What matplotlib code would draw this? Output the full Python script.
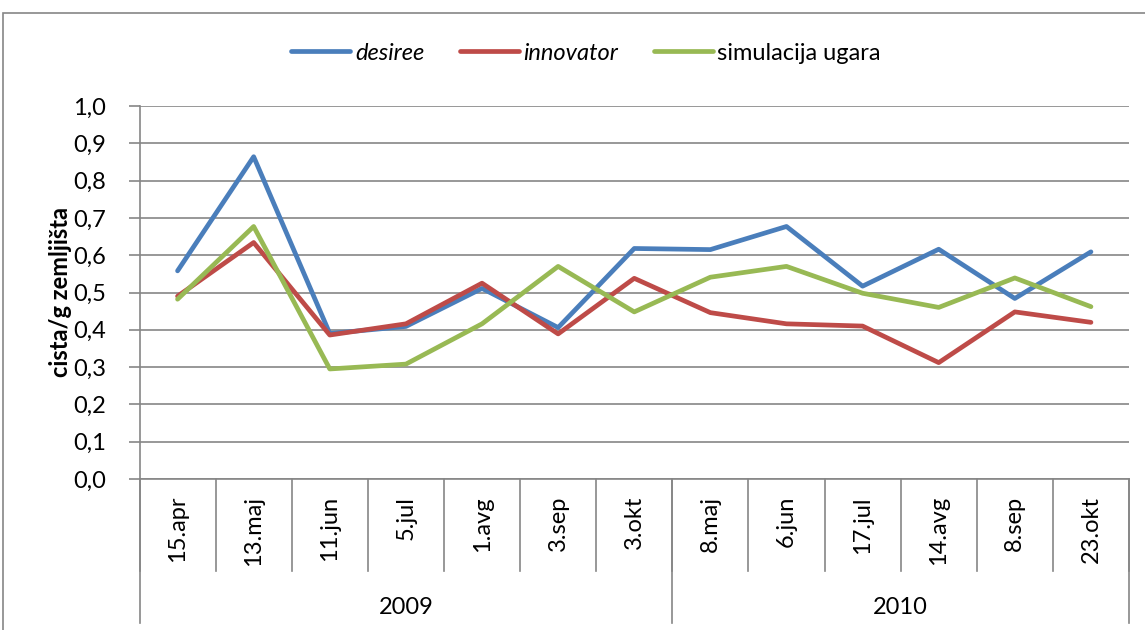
import matplotlib.pyplot as plt
from matplotlib.patches import Rectangle

# ============================================
# DATA
# ============================================
dates = ['15.apr', '13.maj', '11.jun', '5.jul', '1.avg', '3.sep', '3.okt',
         '8.maj', '6.jun', '17.jul', '14.avg', '8.sep', '23.okt']
years = ['2009', '2010']
year_counts = [7, 6]

desiree = [0.558, 0.864, 0.390, 0.409, 0.511, 0.406, 0.618,
           0.615, 0.677, 0.517, 0.616, 0.484, 0.609]
innovator = [0.490, 0.634, 0.386, 0.416, 0.525, 0.389, 0.538,
             0.446, 0.416, 0.410, 0.312, 0.448, 0.420]
simulacija = [0.482, 0.677, 0.295, 0.308, 0.416, 0.570, 0.448,
              0.541, 0.570, 0.498, 0.460, 0.539, 0.462]

yticks = [0.0, 0.1, 0.2, 0.3, 0.4, 0.5, 0.6, 0.7, 0.8, 0.9, 1.0]

# ============================================
# STYLE
# ============================================
plt.rcParams['font.family'] = ['Lato', 'DejaVu Sans']
FS = 17
GRID = '#868686'
W, H = 1145, 630

fig = plt.figure(figsize=(W / 100, H / 100), dpi=100)
left, right, top, bottom = 139.5, 1129, 106, 479
ax = fig.add_axes([left / W, 1 - bottom / H, (right - left) / W, (bottom - top) / H])

# outer chart border
fig.patches.append(Rectangle((3 / W, -0.1), 1.2, 1 - 13 / H + 0.1, transform=fig.transFigure,
                             fill=False, edgecolor='#868686', lw=1.2))

x = list(range(len(dates)))
ax.plot(x, desiree, color='#4A7EBB', lw=3.4, label='desiree', solid_capstyle='round')
ax.plot(x, innovator, color='#BE4B48', lw=3.4, label='innovator', solid_capstyle='round')
ax.plot(x, simulacija, color='#98B954', lw=3.4, label='simulacija ugara', solid_capstyle='round')

ax.set_xlim(-0.5, len(dates) - 0.5)
ax.set_ylim(0, 1.0)
ax.set_yticks(yticks)
ax.set_yticklabels([f'{v:.1f}'.replace('.', ',') for v in yticks], fontsize=FS)
ax.yaxis.grid(True, color=GRID, lw=1.2)
ax.set_axisbelow(True)
ax.tick_params(axis='y', length=8, color=GRID, width=1.2, pad=16)
ax.set_xticks([])
for s in ['top', 'right']:
    ax.spines[s].set_visible(False)
for s in ['left', 'bottom']:
    ax.spines[s].set_color(GRID)
    ax.spines[s].set_linewidth(1.2)

# y-axis title
fig.text(60 / W, 1 - 292 / H, 'cista/g zemljišta', rotation=90, ha='center', va='center',
         fontsize=FS, fontweight='bold')

# two-level category axis
ph = bottom - top
tr = ax.get_xaxis_transform()
sep_low = -(571 - bottom) / ph
year_low = -(623 - bottom) / ph
for i in range(len(dates) + 1):
    ax.plot([i - 0.5, i - 0.5], [0, sep_low], transform=tr, color=GRID, lw=1.2, clip_on=False)
for i, d in enumerate(dates):
    ax.text(i, -(496 - bottom) / ph, d, transform=tr, rotation=90, ha='center', va='top', fontsize=FS)

start = 0
bounds = [0]
for y, n in zip(years, year_counts):
    ax.text(start + n / 2 - 0.5, -(607 - bottom) / ph, y, transform=tr, ha='center', va='center', fontsize=FS)
    start += n
    bounds.append(start)
for b in bounds:
    ax.plot([b - 0.5, b - 0.5], [0, year_low], transform=tr, color=GRID, lw=1.2, clip_on=False)

leg = fig.legend(loc='center', bbox_to_anchor=(586 / W, 1 - 53 / H), ncol=3, frameon=False,
                 fontsize=FS, handlelength=2.5, handletextpad=0.2, columnspacing=1.5)
for t in leg.get_texts()[:2]:
    t.set_fontstyle('italic')

fig.savefig('out.png', dpi=100)
